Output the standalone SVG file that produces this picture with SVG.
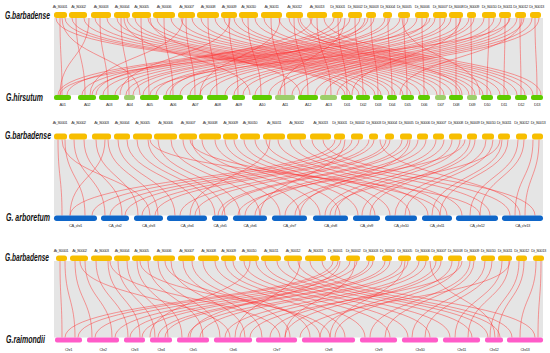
<svg xmlns="http://www.w3.org/2000/svg" width="550" height="353" viewBox="0 0 550 353">
<style>
.sp{font-family:"Liberation Sans",Arial,sans-serif;font-weight:bold;font-style:italic;font-size:10.5px;fill:#111}
.lb{font-family:"Liberation Sans",Arial,sans-serif;font-size:4.1px;letter-spacing:-0.45px;fill:#333;text-anchor:middle}
.y{fill:#f7be00}
.g{fill:#5fcc00}
.lg{fill:#9ccf6a}
.b{fill:#0f66c8}
.p{fill:#ff5cc8}
.bg{fill:#e5e5e5}
.r{fill:none;stroke:#ff2f2f;stroke-width:0.65;opacity:0.72}
</style>
<rect width="550" height="353" fill="#ffffff"/>
<g id="backgrounds">
<rect class="bg" x="54" y="18" width="489" height="77"/>
<rect class="bg" x="54" y="139.5" width="489" height="76"/>
<rect class="bg" x="54" y="261" width="489" height="76.5"/>
</g>
<g id="species">
<text class="sp" x="5" y="18.6" textLength="45" lengthAdjust="spacingAndGlyphs">G.barbadense</text>
<text class="sp" x="6" y="100.5" textLength="37" lengthAdjust="spacingAndGlyphs">G.hirsutum</text>
<text class="sp" x="5" y="139" textLength="46" lengthAdjust="spacingAndGlyphs">G.barbadense</text>
<text class="sp" x="6" y="220.5" textLength="44" lengthAdjust="spacingAndGlyphs">G. arboretum</text>
<text class="sp" x="5" y="261" textLength="44" lengthAdjust="spacingAndGlyphs">G.barbadense</text>
<text class="sp" x="6" y="343" textLength="39" lengthAdjust="spacingAndGlyphs">G.raimondii</text>
</g>
<g id="connectors">
<g id="links1">
<path class="r" d="M60 18C60 57 62 57 62 95M56 18C56 57 345 57 345 95M65 18C65 57 350 57 350 95M338 18C338 57 347 57 347 95M334 18C334 57 58 57 58 95M341 18C341 57 67 57 67 95"/>
<path class="r" d="M76 18C76 57 85 57 85 95M72 18C72 57 359 57 359 95M84 18C84 57 366 57 366 95M355 18C355 57 363 57 363 95M350 18C350 57 82 57 82 95M360 18C360 57 92 57 92 95"/>
<path class="r" d="M100 18C100 57 108 57 108 95M95 18C95 57 375 57 375 95M107 18C107 57 381 57 381 95M371 18C371 57 378 57 378 95M368 18C368 57 103 57 103 95M374 18C374 57 115 57 115 95"/>
<path class="r" d="M121 18C121 57 129 57 129 95M117 18C117 57 389 57 389 95M127 18C127 57 395 57 395 95M388 18C388 57 392 57 392 95M385 18C385 57 126 57 126 95M390 18C390 57 133 57 133 95"/>
<path class="r" d="M141 18C141 57 149 57 149 95M135 18C135 57 403 57 403 95M148 18C148 57 411 57 411 95M404 18C404 57 407 57 407 95M400 18C400 57 143 57 143 95M408 18C408 57 156 57 156 95"/>
<path class="r" d="M164 18C164 57 173 57 173 95M157 18C157 57 420 57 420 95M171 18C171 57 428 57 428 95M422 18C422 57 424 57 424 95M417 18C417 57 166 57 166 95M427 18C427 57 180 57 180 95"/>
<path class="r" d="M186 18C186 57 195 57 195 95M181 18C181 57 437 57 437 95M192 18C192 57 444 57 444 95M440 18C440 57 440 57 440 95M435 18C435 57 190 57 190 95M445 18C445 57 200 57 200 95"/>
<path class="r" d="M208 18C208 57 217 57 217 95M201 18C201 57 452 57 452 95M215 18C215 57 460 57 460 95M456 18C456 57 456 57 456 95M451 18C451 57 210 57 210 95M461 18C461 57 225 57 225 95"/>
<path class="r" d="M229 18C229 57 238 57 238 95M224 18C224 57 469 57 469 95M234 18C234 57 475 57 475 95M471 18C471 57 472 57 472 95M469 18C469 57 234 57 234 95M474 18C474 57 243 57 243 95"/>
<path class="r" d="M248 18C248 57 261 57 261 95M242 18C242 57 483 57 483 95M255 18C255 57 491 57 491 95M489 18C489 57 487 57 487 95M484 18C484 57 255 57 255 95M494 18C494 57 269 57 269 95"/>
<path class="r" d="M271 18C271 57 285 57 285 95M264 18C264 57 500 57 500 95M279 18C279 57 508 57 508 95M505 18C505 57 504 57 504 95M501 18C501 57 278 57 278 95M509 18C509 57 292 57 292 95"/>
<path class="r" d="M294 18C294 57 308 57 308 95M289 18C289 57 517 57 517 95M300 18C300 57 525 57 525 95M520 18C520 57 521 57 521 95M517 18C517 57 301 57 301 95M524 18C524 57 315 57 315 95"/>
<path class="r" d="M317 18C317 57 331 57 331 95M310 18C310 57 533 57 533 95M324 18C324 57 541 57 541 95M535 18C535 57 537 57 537 95M532 18C532 57 325 57 325 95M539 18C539 57 337 57 337 95"/>
<path class="r" d="M62 18C62 57 140 57 140 95M89 18C89 57 60 57 60 95M150 18C150 57 300 57 300 95M230 18C230 57 120 57 120 95M280 18C280 57 200 57 200 95M312 18C312 57 96 57 96 95M345 18C345 57 280 57 280 95M402 18C402 57 480 57 480 95M460 18C460 57 352 57 352 95M522 18C522 57 400 57 400 95M298 18C298 57 462 57 462 95M183 18C183 57 90 57 90 95M124 18C124 57 250 57 250 95M365 18C365 57 170 57 170 95M430 18C430 57 60 57 60 95M510 18C510 57 150 57 150 95"/>
</g>
<g id="links2">
<path class="r" d="M58 139.5C58 177 62 177 62 215.5M65 139.5C65 177 85 177 85 215.5M335 139.5C335 177 70 177 70 215.5M341 139.5C341 177 92 177 92 215.5"/>
<path class="r" d="M74 139.5C74 177 105 177 105 215.5M84 139.5C84 177 122 177 122 215.5M352 139.5C352 177 110 177 110 215.5M359 139.5C359 177 125 177 125 215.5"/>
<path class="r" d="M96 139.5C96 177 138 177 138 215.5M108 139.5C108 177 158 177 158 215.5M369 139.5C369 177 142 177 142 215.5M374 139.5C374 177 155 177 155 215.5"/>
<path class="r" d="M118 139.5C118 177 175 177 175 215.5M127 139.5C127 177 200 177 200 215.5M386 139.5C386 177 180 177 180 215.5M390 139.5C390 177 195 177 195 215.5"/>
<path class="r" d="M137 139.5C137 177 215 177 215 215.5M148 139.5C148 177 225 177 225 215.5M402 139.5C402 177 218 177 218 215.5M408 139.5C408 177 222 177 222 215.5"/>
<path class="r" d="M158 139.5C158 177 240 177 240 215.5M171 139.5C171 177 260 177 260 215.5M418 139.5C418 177 245 177 245 215.5M426 139.5C426 177 255 177 255 215.5"/>
<path class="r" d="M183 139.5C183 177 280 177 280 215.5M192 139.5C192 177 300 177 300 215.5M436 139.5C436 177 285 177 285 215.5M444 139.5C444 177 295 177 295 215.5"/>
<path class="r" d="M202 139.5C202 177 320 177 320 215.5M215 139.5C215 177 340 177 340 215.5M452 139.5C452 177 325 177 325 215.5M460 139.5C460 177 335 177 335 215.5"/>
<path class="r" d="M225 139.5C225 177 358 177 358 215.5M234 139.5C234 177 375 177 375 215.5M470 139.5C470 177 362 177 362 215.5M475 139.5C475 177 370 177 370 215.5"/>
<path class="r" d="M244 139.5C244 177 390 177 390 215.5M255 139.5C255 177 410 177 410 215.5M486 139.5C486 177 395 177 395 215.5M493 139.5C493 177 405 177 405 215.5"/>
<path class="r" d="M266 139.5C266 177 428 177 428 215.5M278 139.5C278 177 447 177 447 215.5M502 139.5C502 177 432 177 432 215.5M508 139.5C508 177 440 177 440 215.5"/>
<path class="r" d="M290 139.5C290 177 462 177 462 215.5M300 139.5C300 177 490 177 490 215.5M518 139.5C518 177 470 177 470 215.5M524 139.5C524 177 480 177 480 215.5"/>
<path class="r" d="M312 139.5C312 177 510 177 510 215.5M323 139.5C323 177 535 177 535 215.5M533 139.5C533 177 515 177 515 215.5M539 139.5C539 177 525 177 525 215.5"/>
<path class="r" d="M62 139.5C62 177 150 177 150 215.5M105 139.5C105 177 70 177 70 215.5M270 139.5C270 177 190 177 190 215.5M345 139.5C345 177 260 177 260 215.5M410 139.5C410 177 300 177 300 215.5M500 139.5C500 177 330 177 330 215.5M190 139.5C190 177 440 177 440 215.5M150 139.5C150 177 480 177 480 215.5M380 139.5C380 177 520 177 520 215.5M465 139.5C465 177 238 177 238 215.5"/>
</g>
<g id="links3">
<path class="r" d="M60 261C60 299 62 299 62 337.5M65 261C65 299 75 299 75 337.5M333 261C333 299 65 299 65 337.5M338 261C338 299 78 299 78 337.5"/>
<path class="r" d="M75 261C75 299 92 299 92 337.5M85 261C85 299 112 299 112 337.5M350 261C350 299 95 299 95 337.5M357 261C357 299 115 299 115 337.5"/>
<path class="r" d="M96 261C96 299 128 299 128 337.5M108 261C108 299 140 299 140 337.5M369 261C369 299 130 299 130 337.5M373 261C373 299 142 299 142 337.5"/>
<path class="r" d="M118 261C118 299 155 299 155 337.5M127 261C127 299 168 299 168 337.5M385 261C385 299 158 299 158 337.5M390 261C390 299 165 299 165 337.5"/>
<path class="r" d="M137 261C137 299 182 299 182 337.5M148 261C148 299 203 299 203 337.5M402 261C402 299 188 299 188 337.5M408 261C408 299 200 299 200 337.5"/>
<path class="r" d="M158 261C158 299 220 299 220 337.5M171 261C171 299 245 299 245 337.5M419 261C419 299 225 299 225 337.5M426 261C426 299 240 299 240 337.5"/>
<path class="r" d="M183 261C183 299 262 299 262 337.5M192 261C192 299 290 299 290 337.5M436 261C436 299 270 299 270 337.5M441 261C441 299 285 299 285 337.5"/>
<path class="r" d="M203 261C203 299 310 299 310 337.5M215 261C215 299 345 299 345 337.5M452 261C452 299 320 299 320 337.5M459 261C459 299 335 299 335 337.5"/>
<path class="r" d="M225 261C225 299 365 299 365 337.5M233 261C233 299 390 299 390 337.5M470 261C470 299 370 299 370 337.5M474 261C474 299 385 299 385 337.5"/>
<path class="r" d="M244 261C244 299 408 299 408 337.5M256 261C256 299 430 299 430 337.5M485 261C485 299 412 299 412 337.5M492 261C492 299 425 299 425 337.5"/>
<path class="r" d="M265 261C265 299 450 299 450 337.5M277 261C277 299 472 299 472 337.5M502 261C502 299 455 299 455 337.5M509 261C509 299 468 299 468 337.5"/>
<path class="r" d="M288 261C288 299 488 299 488 337.5M298 261C298 299 500 299 500 337.5M519 261C519 299 490 299 490 337.5M524 261C524 299 498 299 498 337.5"/>
<path class="r" d="M310 261C310 299 512 299 512 337.5M322 261C322 299 535 299 535 337.5M536 261C536 299 520 299 520 337.5M541 261C541 299 538 299 538 337.5"/>
<path class="r" d="M80 261C80 299 230 299 230 337.5M110 261C110 299 280 299 280 337.5M165 261C165 299 320 299 320 337.5M300 261C300 299 235 299 235 337.5M355 261C355 299 285 299 285 337.5M405 261C405 299 330 299 330 337.5M462 261C462 299 250 299 250 337.5M510 261C510 299 300 299 300 337.5M250 261C250 299 150 299 150 337.5M140 261C140 299 330 299 330 337.5M430 261C430 299 495 299 495 337.5M340 261C340 299 190 299 190 337.5"/>
</g>
</g>
<g id="row1-top">
<g id="p1-At_S0001"><rect class="y" x="54" y="12" width="13" height="6" rx="2.5"/><text class="lb" x="60" y="8">At_S0001</text></g>
<g id="p1-At_S0002"><rect class="y" x="69" y="12" width="18" height="6" rx="2.5"/><text class="lb" x="78.5" y="8">At_S0002</text></g>
<g id="p1-At_S0003"><rect class="y" x="91" y="12" width="20" height="6" rx="2.5"/><text class="lb" x="101" y="8">At_S0003</text></g>
<g id="p1-At_S0004"><rect class="y" x="114" y="12" width="16" height="6" rx="2.5"/><text class="lb" x="122" y="8">At_S0004</text></g>
<g id="p1-At_S0005"><rect class="y" x="132" y="12" width="19" height="6" rx="2.5"/><text class="lb" x="141.5" y="8">At_S0005</text></g>
<g id="p1-At_S0006"><rect class="y" x="153" y="12" width="22" height="6" rx="2.5"/><text class="lb" x="164" y="8">At_S0006</text></g>
<g id="p1-At_S0007"><rect class="y" x="178" y="12" width="17" height="6" rx="2.5"/><text class="lb" x="186.5" y="8">At_S0007</text></g>
<g id="p1-At_S0008"><rect class="y" x="197" y="12" width="22" height="6" rx="2.5"/><text class="lb" x="208" y="8">At_S0008</text></g>
<g id="p1-At_S0009"><rect class="y" x="221" y="12" width="16" height="6" rx="2.5"/><text class="lb" x="229" y="8">At_S0009</text></g>
<g id="p1-At_S0010"><rect class="y" x="239" y="12" width="19" height="6" rx="2.5"/><text class="lb" x="248.5" y="8">At_S0010</text></g>
<g id="p1-At_S0011"><rect class="y" x="261" y="12" width="21" height="6" rx="2.5"/><text class="lb" x="271.5" y="8">At_S0011</text></g>
<g id="p1-At_S0012"><rect class="y" x="286" y="12" width="17" height="6" rx="2.5"/><text class="lb" x="294.5" y="8">At_S0012</text></g>
<g id="p1-At_S0013"><rect class="y" x="307" y="12" width="20" height="6" rx="2.5"/><text class="lb" x="317" y="8">At_S0013</text></g>
<g id="p1-Dt_S0001"><rect class="y" x="332" y="12" width="11" height="6" rx="2.5"/><text class="lb" x="337.5" y="8">Dt_S0001</text></g>
<g id="p1-Dt_S0002"><rect class="y" x="348" y="12" width="14" height="6" rx="2.5"/><text class="lb" x="355" y="8">Dt_S0002</text></g>
<g id="p1-Dt_S0003"><rect class="y" x="366" y="12" width="10" height="6" rx="2.5"/><text class="lb" x="371" y="8">Dt_S0003</text></g>
<g id="p1-Dt_S0004"><rect class="y" x="383" y="12" width="9" height="6" rx="2.5"/><text class="lb" x="387.5" y="8">Dt_S0004</text></g>
<g id="p1-Dt_S0005"><rect class="y" x="398" y="12" width="12" height="6" rx="2.5"/><text class="lb" x="404" y="8">Dt_S0005</text></g>
<g id="p1-Dt_S0006"><rect class="y" x="415" y="12" width="14" height="6" rx="2.5"/><text class="lb" x="422" y="8">Dt_S0006</text></g>
<g id="p1-Dt_S0007"><rect class="y" x="433" y="12" width="14" height="6" rx="2.5"/><text class="lb" x="440" y="8">Dt_S0007</text></g>
<g id="p1-Dt_S0008"><rect class="y" x="449" y="12" width="14" height="6" rx="2.5"/><text class="lb" x="456" y="8">Dt_S0008</text></g>
<g id="p1-Dt_S0009"><rect class="y" x="467" y="12" width="9" height="6" rx="2.5"/><text class="lb" x="471.5" y="8">Dt_S0009</text></g>
<g id="p1-Dt_S0010"><rect class="y" x="482" y="12" width="14" height="6" rx="2.5"/><text class="lb" x="489" y="8">Dt_S0010</text></g>
<g id="p1-Dt_S0011"><rect class="y" x="499" y="12" width="12" height="6" rx="2.5"/><text class="lb" x="505" y="8">Dt_S0011</text></g>
<g id="p1-Dt_S0012"><rect class="y" x="515" y="12" width="11" height="6" rx="2.5"/><text class="lb" x="520.5" y="8">Dt_S0012</text></g>
<g id="p1-Dt_S0013"><rect class="y" x="530" y="12" width="11" height="6" rx="2.5"/><text class="lb" x="536.5" y="8">Dt_S0013</text></g>
</g>
<g id="row1-bottom">
<g id="A01"><rect class="g" x="54" y="95" width="17" height="5" rx="2"/><text class="lb" x="62.5" y="105.5">A01</text></g>
<g id="A02"><rect class="g" x="78" y="95" width="18" height="5" rx="2"/><text class="lb" x="87" y="105.5">A02</text></g>
<g id="A03"><rect class="g" x="99" y="95" width="20" height="5" rx="2"/><text class="lb" x="109" y="105.5">A03</text></g>
<g id="A04"><rect class="lg" x="124" y="95" width="11" height="5" rx="2"/><text class="lb" x="129.5" y="105.5">A04</text></g>
<g id="A05"><rect class="g" x="140" y="95" width="19" height="5" rx="2"/><text class="lb" x="149.5" y="105.5">A05</text></g>
<g id="A06"><rect class="g" x="163" y="95" width="20" height="5" rx="2"/><text class="lb" x="173" y="105.5">A06</text></g>
<g id="A07"><rect class="g" x="187" y="95" width="16" height="5" rx="2"/><text class="lb" x="195" y="105.5">A07</text></g>
<g id="A08"><rect class="g" x="207" y="95" width="21" height="5" rx="2"/><text class="lb" x="217.5" y="105.5">A08</text></g>
<g id="A09"><rect class="g" x="232" y="95" width="13" height="5" rx="2"/><text class="lb" x="238.5" y="105.5">A09</text></g>
<g id="A10"><rect class="g" x="252" y="95" width="20" height="5" rx="2"/><text class="lb" x="262" y="105.5">A10</text></g>
<g id="A11"><rect class="lg" x="275" y="95" width="20" height="5" rx="2"/><text class="lb" x="285" y="105.5">A11</text></g>
<g id="A12"><rect class="g" x="298" y="95" width="20" height="5" rx="2"/><text class="lb" x="308" y="105.5">A12</text></g>
<g id="A13"><rect class="lg" x="320" y="95" width="17" height="5" rx="2"/><text class="lb" x="328.5" y="105.5">A13</text></g>
<g id="D01"><rect class="g" x="341" y="95" width="12" height="5" rx="2"/><text class="lb" x="347" y="105.5">D01</text></g>
<g id="D02"><rect class="g" x="356" y="95" width="14" height="5" rx="2"/><text class="lb" x="363" y="105.5">D02</text></g>
<g id="D03"><rect class="g" x="373" y="95" width="10" height="5" rx="2"/><text class="lb" x="378" y="105.5">D03</text></g>
<g id="D04"><rect class="g" x="387" y="95" width="10" height="5" rx="2"/><text class="lb" x="392" y="105.5">D04</text></g>
<g id="D05"><rect class="g" x="401" y="95" width="13" height="5" rx="2"/><text class="lb" x="407.5" y="105.5">D05</text></g>
<g id="D06"><rect class="g" x="418" y="95" width="12" height="5" rx="2"/><text class="lb" x="424" y="105.5">D06</text></g>
<g id="D07"><rect class="lg" x="435" y="95" width="11" height="5" rx="2"/><text class="lb" x="440.5" y="105.5">D07</text></g>
<g id="D08"><rect class="g" x="449" y="95" width="14" height="5" rx="2"/><text class="lb" x="456" y="105.5">D08</text></g>
<g id="D09"><rect class="lg" x="467" y="95" width="10" height="5" rx="2"/><text class="lb" x="472" y="105.5">D09</text></g>
<g id="D10"><rect class="g" x="481" y="95" width="12" height="5" rx="2"/><text class="lb" x="487" y="105.5">D10</text></g>
<g id="D11"><rect class="g" x="497" y="95" width="14" height="5" rx="2"/><text class="lb" x="504" y="105.5">D11</text></g>
<g id="D12"><rect class="g" x="515" y="95" width="12" height="5" rx="2"/><text class="lb" x="521" y="105.5">D12</text></g>
<g id="D13"><rect class="g" x="531" y="95" width="12" height="5" rx="2"/><text class="lb" x="537" y="105.5">D13</text></g>
</g>
<g id="row2-top">
<g id="p2-At_S0001"><rect class="y" x="54" y="133.5" width="13" height="6" rx="2.5"/><text class="lb" x="60" y="124">At_S0001</text></g>
<g id="p2-At_S0002"><rect class="y" x="69" y="133.5" width="18" height="6" rx="2.5"/><text class="lb" x="78.5" y="124">At_S0002</text></g>
<g id="p2-At_S0003"><rect class="y" x="92" y="133.5" width="19" height="6" rx="2.5"/><text class="lb" x="101.5" y="124">At_S0003</text></g>
<g id="p2-At_S0004"><rect class="y" x="114" y="133.5" width="16" height="6" rx="2.5"/><text class="lb" x="122" y="124">At_S0004</text></g>
<g id="p2-At_S0005"><rect class="y" x="133" y="133.5" width="19" height="6" rx="2.5"/><text class="lb" x="142.5" y="124">At_S0005</text></g>
<g id="p2-At_S0006"><rect class="y" x="154" y="133.5" width="23" height="6" rx="2.5"/><text class="lb" x="165.5" y="124">At_S0006</text></g>
<g id="p2-At_S0007"><rect class="y" x="179" y="133.5" width="18" height="6" rx="2.5"/><text class="lb" x="188" y="124">At_S0007</text></g>
<g id="p2-At_S0008"><rect class="y" x="199" y="133.5" width="22" height="6" rx="2.5"/><text class="lb" x="210" y="124">At_S0008</text></g>
<g id="p2-At_S0009"><rect class="y" x="223" y="133.5" width="15" height="6" rx="2.5"/><text class="lb" x="230.5" y="124">At_S0009</text></g>
<g id="p2-At_S0010"><rect class="y" x="240" y="133.5" width="20" height="6" rx="2.5"/><text class="lb" x="250" y="124">At_S0010</text></g>
<g id="p2-At_S0011"><rect class="y" x="263" y="133.5" width="22" height="6" rx="2.5"/><text class="lb" x="274" y="124">At_S0011</text></g>
<g id="p2-At_S0012"><rect class="y" x="287" y="133.5" width="19" height="6" rx="2.5"/><text class="lb" x="296.5" y="124">At_S0012</text></g>
<g id="p2-At_S0013"><rect class="y" x="310" y="133.5" width="21" height="6" rx="2.5"/><text class="lb" x="320.5" y="124">At_S0013</text></g>
<g id="p2-Dt_S0001"><rect class="y" x="334" y="133.5" width="11" height="6" rx="2.5"/><text class="lb" x="339.5" y="124">Dt_S0001</text></g>
<g id="p2-Dt_S0002"><rect class="y" x="351" y="133.5" width="12" height="6" rx="2.5"/><text class="lb" x="357" y="124">Dt_S0002</text></g>
<g id="p2-Dt_S0003"><rect class="y" x="369" y="133.5" width="9" height="6" rx="2.5"/><text class="lb" x="373.5" y="124">Dt_S0003</text></g>
<g id="p2-Dt_S0004"><rect class="y" x="385" y="133.5" width="9" height="6" rx="2.5"/><text class="lb" x="389.5" y="124">Dt_S0004</text></g>
<g id="p2-Dt_S0005"><rect class="y" x="400" y="133.5" width="12" height="6" rx="2.5"/><text class="lb" x="406" y="124">Dt_S0005</text></g>
<g id="p2-Dt_S0006"><rect class="y" x="417" y="133.5" width="11" height="6" rx="2.5"/><text class="lb" x="422.5" y="124">Dt_S0006</text></g>
<g id="p2-Dt_S0007"><rect class="y" x="433" y="133.5" width="11" height="6" rx="2.5"/><text class="lb" x="438.5" y="124">Dt_S0007</text></g>
<g id="p2-Dt_S0008"><rect class="y" x="449" y="133.5" width="13" height="6" rx="2.5"/><text class="lb" x="455.5" y="124">Dt_S0008</text></g>
<g id="p2-Dt_S0009"><rect class="y" x="467" y="133.5" width="10" height="6" rx="2.5"/><text class="lb" x="472" y="124">Dt_S0009</text></g>
<g id="p2-Dt_S0010"><rect class="y" x="482" y="133.5" width="12" height="6" rx="2.5"/><text class="lb" x="488" y="124">Dt_S0010</text></g>
<g id="p2-Dt_S0011"><rect class="y" x="498" y="133.5" width="12" height="6" rx="2.5"/><text class="lb" x="504" y="124">Dt_S0011</text></g>
<g id="p2-Dt_S0012"><rect class="y" x="516" y="133.5" width="11" height="6" rx="2.5"/><text class="lb" x="521.5" y="124">Dt_S0012</text></g>
<g id="p2-Dt_S0013"><rect class="y" x="532" y="133.5" width="11" height="6" rx="2.5"/><text class="lb" x="538" y="124">Dt_S0013</text></g>
</g>
<g id="row2-bottom">
<g id="CA_chr1"><rect class="b" x="54" y="215.5" width="43" height="5.5" rx="2.7"/><text class="lb" x="75.5" y="226.5">CA_chr1</text></g>
<g id="CA_chr2"><rect class="b" x="101" y="215.5" width="28" height="5.5" rx="2.7"/><text class="lb" x="115" y="226.5">CA_chr2</text></g>
<g id="CA_chr3"><rect class="b" x="134" y="215.5" width="29" height="5.5" rx="2.7"/><text class="lb" x="148.5" y="226.5">CA_chr3</text></g>
<g id="CA_chr4"><rect class="b" x="167" y="215.5" width="40" height="5.5" rx="2.7"/><text class="lb" x="187" y="226.5">CA_chr4</text></g>
<g id="CA_chr5"><rect class="b" x="212" y="215.5" width="16" height="5.5" rx="2.7"/><text class="lb" x="220" y="226.5">CA_chr5</text></g>
<g id="CA_chr6"><rect class="b" x="233" y="215.5" width="34" height="5.5" rx="2.7"/><text class="lb" x="250" y="226.5">CA_chr6</text></g>
<g id="CA_chr7"><rect class="b" x="272" y="215.5" width="35" height="5.5" rx="2.7"/><text class="lb" x="289.5" y="226.5">CA_chr7</text></g>
<g id="CA_chr8"><rect class="b" x="313" y="215.5" width="35" height="5.5" rx="2.7"/><text class="lb" x="330.5" y="226.5">CA_chr8</text></g>
<g id="CA_chr9"><rect class="b" x="353" y="215.5" width="27" height="5.5" rx="2.7"/><text class="lb" x="366.5" y="226.5">CA_chr9</text></g>
<g id="CA_chr10"><rect class="b" x="385" y="215.5" width="32" height="5.5" rx="2.7"/><text class="lb" x="401" y="226.5">CA_chr10</text></g>
<g id="CA_chr11"><rect class="b" x="422" y="215.5" width="30" height="5.5" rx="2.7"/><text class="lb" x="437" y="226.5">CA_chr11</text></g>
<g id="CA_chr12"><rect class="b" x="456" y="215.5" width="42" height="5.5" rx="2.7"/><text class="lb" x="477" y="226.5">CA_chr12</text></g>
<g id="CA_chr13"><rect class="b" x="502" y="215.5" width="41" height="5.5" rx="2.7"/><text class="lb" x="522.5" y="226.5">CA_chr13</text></g>
</g>
<g id="row3-top">
<g id="p3-At_S0001"><rect class="y" x="56" y="255.5" width="11" height="5.5" rx="2.5"/><text class="lb" x="61" y="251.5">At_S0001</text></g>
<g id="p3-At_S0002"><rect class="y" x="70" y="255.5" width="18" height="5.5" rx="2.5"/><text class="lb" x="79.5" y="251.5">At_S0002</text></g>
<g id="p3-At_S0003"><rect class="y" x="91" y="255.5" width="21" height="5.5" rx="2.5"/><text class="lb" x="101.5" y="251.5">At_S0003</text></g>
<g id="p3-At_S0004"><rect class="y" x="114" y="255.5" width="16" height="5.5" rx="2.5"/><text class="lb" x="122" y="251.5">At_S0004</text></g>
<g id="p3-At_S0005"><rect class="y" x="132" y="255.5" width="19" height="5.5" rx="2.5"/><text class="lb" x="141.5" y="251.5">At_S0005</text></g>
<g id="p3-At_S0006"><rect class="y" x="153" y="255.5" width="22" height="5.5" rx="2.5"/><text class="lb" x="164" y="251.5">At_S0006</text></g>
<g id="p3-At_S0007"><rect class="y" x="178" y="255.5" width="17" height="5.5" rx="2.5"/><text class="lb" x="186.5" y="251.5">At_S0007</text></g>
<g id="p3-At_S0008"><rect class="y" x="198" y="255.5" width="21" height="5.5" rx="2.5"/><text class="lb" x="208.5" y="251.5">At_S0008</text></g>
<g id="p3-At_S0009"><rect class="y" x="221" y="255.5" width="15" height="5.5" rx="2.5"/><text class="lb" x="228.5" y="251.5">At_S0009</text></g>
<g id="p3-At_S0010"><rect class="y" x="239" y="255.5" width="20" height="5.5" rx="2.5"/><text class="lb" x="249" y="251.5">At_S0010</text></g>
<g id="p3-At_S0011"><rect class="y" x="261" y="255.5" width="20" height="5.5" rx="2.5"/><text class="lb" x="271" y="251.5">At_S0011</text></g>
<g id="p3-At_S0012"><rect class="y" x="284" y="255.5" width="18" height="5.5" rx="2.5"/><text class="lb" x="293" y="251.5">At_S0012</text></g>
<g id="p3-At_S0013"><rect class="y" x="305" y="255.5" width="21" height="5.5" rx="2.5"/><text class="lb" x="315.5" y="251.5">At_S0013</text></g>
<g id="p3-Dt_S0001"><rect class="y" x="330" y="255.5" width="10" height="5.5" rx="2.5"/><text class="lb" x="335" y="251.5">Dt_S0001</text></g>
<g id="p3-Dt_S0002"><rect class="y" x="346" y="255.5" width="14" height="5.5" rx="2.5"/><text class="lb" x="353" y="251.5">Dt_S0002</text></g>
<g id="p3-Dt_S0003"><rect class="y" x="366" y="255.5" width="9" height="5.5" rx="2.5"/><text class="lb" x="370.5" y="251.5">Dt_S0003</text></g>
<g id="p3-Dt_S0004"><rect class="y" x="382" y="255.5" width="10" height="5.5" rx="2.5"/><text class="lb" x="387" y="251.5">Dt_S0004</text></g>
<g id="p3-Dt_S0005"><rect class="y" x="398" y="255.5" width="13" height="5.5" rx="2.5"/><text class="lb" x="404.5" y="251.5">Dt_S0005</text></g>
<g id="p3-Dt_S0006"><rect class="y" x="416" y="255.5" width="13" height="5.5" rx="2.5"/><text class="lb" x="422.5" y="251.5">Dt_S0006</text></g>
<g id="p3-Dt_S0007"><rect class="y" x="433" y="255.5" width="10" height="5.5" rx="2.5"/><text class="lb" x="438.5" y="251.5">Dt_S0007</text></g>
<g id="p3-Dt_S0008"><rect class="y" x="448" y="255.5" width="14" height="5.5" rx="2.5"/><text class="lb" x="455" y="251.5">Dt_S0008</text></g>
<g id="p3-Dt_S0009"><rect class="y" x="467" y="255.5" width="9" height="5.5" rx="2.5"/><text class="lb" x="471.5" y="251.5">Dt_S0009</text></g>
<g id="p3-Dt_S0010"><rect class="y" x="481" y="255.5" width="14" height="5.5" rx="2.5"/><text class="lb" x="488" y="251.5">Dt_S0010</text></g>
<g id="p3-Dt_S0011"><rect class="y" x="498" y="255.5" width="14" height="5.5" rx="2.5"/><text class="lb" x="505" y="251.5">Dt_S0011</text></g>
<g id="p3-Dt_S0012"><rect class="y" x="516" y="255.5" width="11" height="5.5" rx="2.5"/><text class="lb" x="521.5" y="251.5">Dt_S0012</text></g>
<g id="p3-Dt_S0013"><rect class="y" x="533" y="255.5" width="11" height="5.5" rx="2.5"/><text class="lb" x="538.5" y="251.5">Dt_S0013</text></g>
</g>
<g id="row3-bottom">
<g id="Chr1"><rect class="p" x="55" y="337.5" width="27" height="5" rx="2"/><text class="lb" x="68.5" y="350.5">Chr1</text></g>
<g id="Chr2"><rect class="p" x="87" y="337.5" width="32" height="5" rx="2"/><text class="lb" x="103" y="350.5">Chr2</text></g>
<g id="Chr3"><rect class="p" x="124" y="337.5" width="21" height="5" rx="2"/><text class="lb" x="134.5" y="350.5">Chr3</text></g>
<g id="Chr4"><rect class="p" x="150" y="337.5" width="22" height="5" rx="2"/><text class="lb" x="161" y="350.5">Chr4</text></g>
<g id="Chr5"><rect class="p" x="177" y="337.5" width="32" height="5" rx="2"/><text class="lb" x="193" y="350.5">Chr5</text></g>
<g id="Chr6"><rect class="p" x="214" y="337.5" width="38" height="5" rx="2"/><text class="lb" x="233" y="350.5">Chr6</text></g>
<g id="Chr7"><rect class="p" x="256" y="337.5" width="41" height="5" rx="2"/><text class="lb" x="276.5" y="350.5">Chr7</text></g>
<g id="Chr8"><rect class="p" x="302" y="337.5" width="53" height="5" rx="2"/><text class="lb" x="328.5" y="350.5">Chr8</text></g>
<g id="Chr9"><rect class="p" x="360" y="337.5" width="37" height="5" rx="2"/><text class="lb" x="378.5" y="350.5">Chr9</text></g>
<g id="Chr10"><rect class="p" x="402" y="337.5" width="36" height="5" rx="2"/><text class="lb" x="420" y="350.5">Chr10</text></g>
<g id="Chr11"><rect class="p" x="443" y="337.5" width="37" height="5" rx="2"/><text class="lb" x="461.5" y="350.5">Chr11</text></g>
<g id="Chr12"><rect class="p" x="485" y="337.5" width="18" height="5" rx="2"/><text class="lb" x="494" y="350.5">Chr12</text></g>
<g id="Chr13"><rect class="p" x="507" y="337.5" width="36" height="5" rx="2"/><text class="lb" x="525" y="350.5">Chr13</text></g>
</g>
</svg>
